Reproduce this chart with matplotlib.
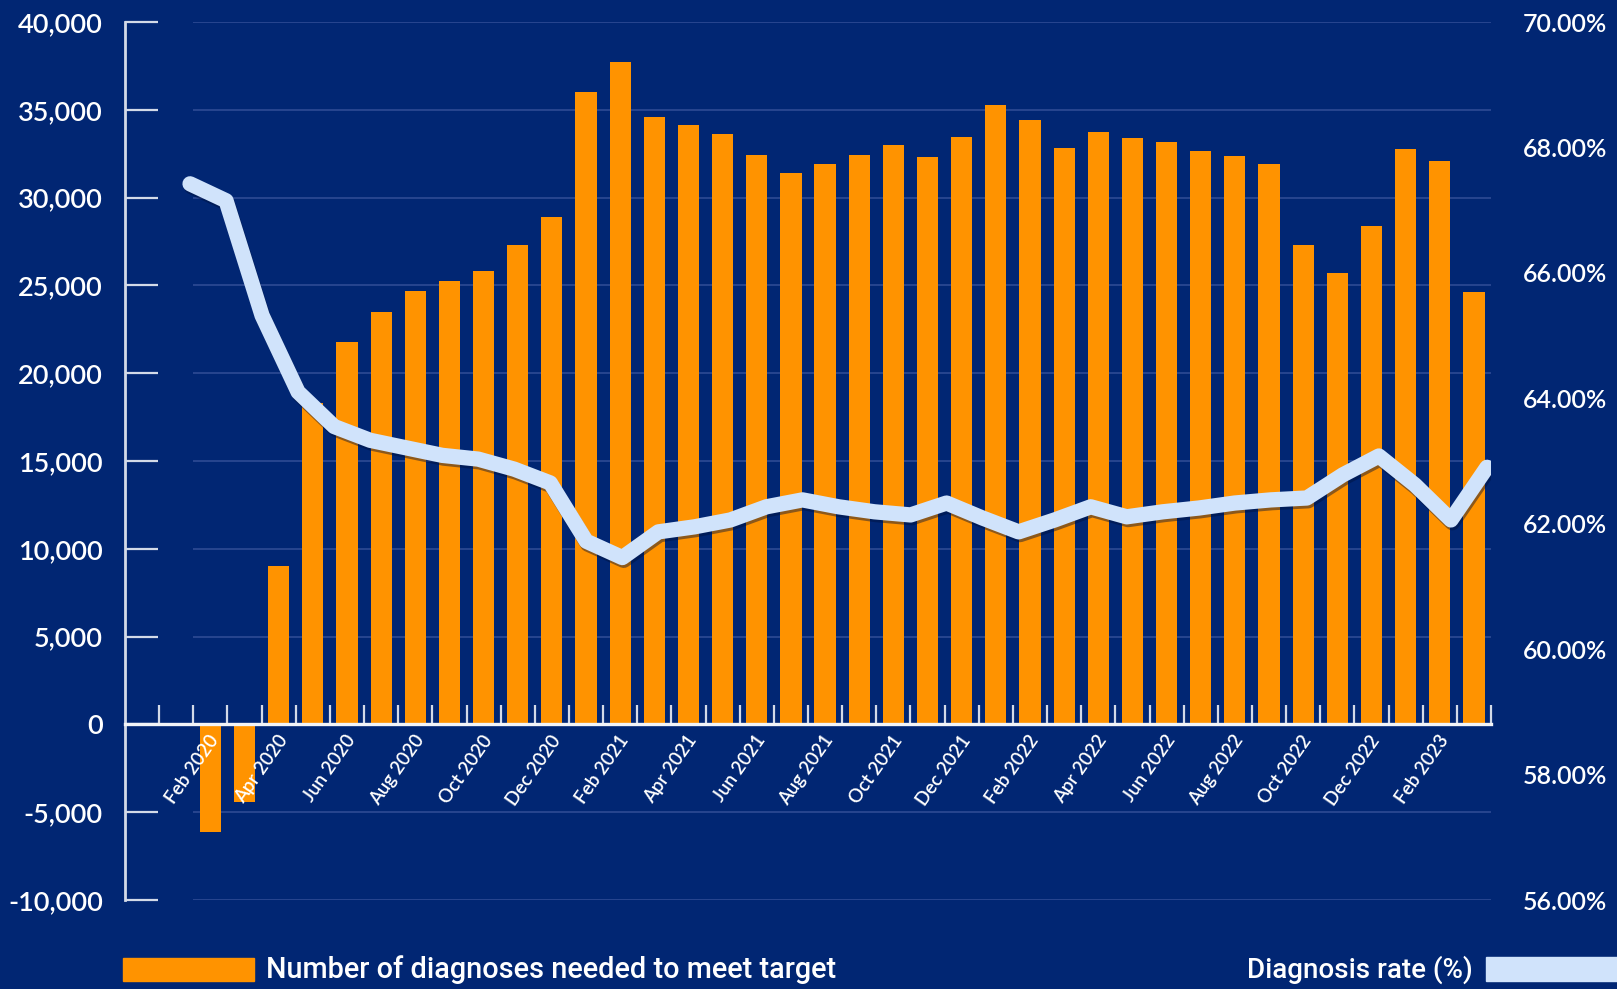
import matplotlib
matplotlib.use('Agg')
import matplotlib.pyplot as plt
import matplotlib.patheffects as pe
import matplotlib.transforms as mtransforms
from matplotlib.patches import Rectangle
from matplotlib.ticker import FuncFormatter, FixedLocator
import numpy as np

# ---------------- data ----------------
axis_months = ['Dec 2019', 'Jan 2020',
               'Feb 2020', 'Mar 2020', 'Apr 2020', 'May 2020', 'Jun 2020', 'Jul 2020',
               'Aug 2020', 'Sep 2020', 'Oct 2020', 'Nov 2020', 'Dec 2020',
               'Jan 2021', 'Feb 2021', 'Mar 2021', 'Apr 2021', 'May 2021', 'Jun 2021',
               'Jul 2021', 'Aug 2021', 'Sep 2021', 'Oct 2021', 'Nov 2021', 'Dec 2021',
               'Jan 2022', 'Feb 2022', 'Mar 2022', 'Apr 2022', 'May 2022', 'Jun 2022',
               'Jul 2022', 'Aug 2022', 'Sep 2022', 'Oct 2022', 'Nov 2022', 'Dec 2022',
               'Jan 2023', 'Feb 2023', 'Mar 2023']

bar_months = axis_months[2:]
bar_values = [-6100, -4400, 9000, 18300, 21800, 23500,
              24700, 25250, 25800, 27300, 28900,
              36000, 37700, 34600, 34150, 33600, 32400,
              31400, 31900, 32450, 33000, 32300, 33450,
              35300, 34400, 32800, 33750, 33400, 33150,
              32650, 32350, 31900, 27300, 25700, 28400,
              32750, 32100, 24650]

rate_months = axis_months[2:-1]
rate_values = [67.42, 67.15, 65.32, 64.10, 63.55, 63.33,
               63.21, 63.09, 63.03, 62.87, 62.65,
               61.72, 61.46, 61.87, 61.95, 62.06, 62.27,
               62.38, 62.27, 62.19, 62.14, 62.33, 62.09,
               61.87, 62.06, 62.27, 62.11, 62.19, 62.25,
               62.33, 62.38, 62.41, 62.78, 63.08, 62.62,
               62.06, 62.90]

left_ticks = [-10000, -5000, 0, 5000, 10000, 15000, 20000, 25000, 30000, 35000, 40000]
right_ticks = [56, 58, 60, 62, 64, 66, 68, 70]

bar_label = 'Number of diagnoses needed to meet target'
line_label = 'Diagnosis rate (%)'

# ---------------- style ----------------
BG = '#012673'
ORANGE = '#FF9300'
LINE = '#D0E3FB'
GRID = '#2E4B94'
AXC = '#D3DAE8'
FONT = 'Lato'
WEIGHT = 'semibold'

W, H = 1617, 989
fig = plt.figure(figsize=(W / 100, H / 100), dpi=100, facecolor=BG)
rect = [125 / W, 1 - 900 / H, 1366 / W, 878 / H]

ax = fig.add_axes(rect)
ax.set_facecolor(BG)
ax.set_axisbelow(False)

xpos = [axis_months.index(m) for m in bar_months]
ax.bar(xpos, bar_values, width=0.62, color=ORANGE, zorder=2)

n = len(axis_months)
ax.set_xlim(-0.5, n - 0.5)
ax.set_ylim(-10000, 40000)

# gridlines (start after the empty leading slots)
grid_vals = [v for v in left_ticks if v != 0]
ax.hlines(grid_vals, 1.5, n - 0.5, colors=GRID, linewidth=1.2, zorder=1)

# spines
for s in ['top', 'right']:
    ax.spines[s].set_visible(False)
ax.spines['left'].set_color(AXC)
ax.spines['left'].set_linewidth(2)
ax.spines['bottom'].set_position(('data', 0))
ax.spines['bottom'].set_color('#F2F4F8')
ax.spines['bottom'].set_linewidth(2.4)
ax.spines['bottom'].set_zorder(4)

# y ticks
ax.set_yticks(left_ticks)
ax.yaxis.set_major_formatter(FuncFormatter(lambda v, p: f'{v:,.0f}'))
ax.tick_params(axis='y', direction='in', length=24, width=1.6, color=AXC,
               labelcolor='white', labelsize=19.5, pad=16)
for t in ax.get_yticklabels():
    t.set_fontfamily(FONT)
    t.set_fontweight(WEIGHT)

# x ticks: labels every other month, minor ticks at slot boundaries
label_pos = list(range(2, n, 2))
ax.set_xticks(label_pos)
ax.set_xticklabels([axis_months[i] for i in label_pos])
ax.xaxis.set_minor_locator(FixedLocator(np.arange(0.5, n, 1.0)))
ax.tick_params(axis='x', which='major', length=0, pad=9, labelcolor='white',
               labelsize=13.5)
ax.tick_params(axis='x', which='minor', direction='in', length=14, width=1.6, color=AXC)
shift = mtransforms.ScaledTranslation(5 / 100, 0, fig.dpi_scale_trans)
for t in ax.get_xticklabels():
    t.set_rotation(55)
    t.set_ha('right')
    t.set_va('center')
    t.set_rotation_mode('anchor')
    t.set_fontfamily(FONT)
    t.set_fontweight(WEIGHT)
    t.set_transform(t.get_transform() + shift)

# ---------------- secondary (line) axes ----------------
ax2 = fig.add_axes(rect, facecolor='none')
ax2.set_xlim(-1.805, len(rate_months) - 1 + 0.111)
ax2.set_ylim(56, 70)
ax2.plot(range(len(rate_months)), rate_values, color=LINE, linewidth=11,
         solid_capstyle='round', solid_joinstyle='round', zorder=3,
         path_effects=[pe.SimpleLineShadow(offset=(1, -2), shadow_color='#00103a', alpha=0.45),
                       pe.Normal()])
for s in ax2.spines.values():
    s.set_visible(False)
ax2.set_xticks([])
ax2.yaxis.tick_right()
ax2.set_yticks(right_ticks)
ax2.yaxis.set_major_formatter(FuncFormatter(lambda v, p: f'{v:.2f}%'))
ax2.tick_params(axis='y', length=0, pad=23, labelcolor='white', labelsize=18)
for t in ax2.get_yticklabels():
    t.set_fontfamily(FONT)
    t.set_fontweight(WEIGHT)

# ---------------- legend ----------------
fig.patches.append(Rectangle((123 / W, 1 - 981 / H), 131 / W, 23 / H,
                             transform=fig.transFigure, color=ORANGE))
fig.text(266 / W, 1 - 970 / H, bar_label, color='white', fontsize=20.8,
         family='Roboto', fontweight='medium', ha='left', va='center')
fig.patches.append(Rectangle((1486 / W, 1 - 981 / H), 140 / W, 24 / H,
                             transform=fig.transFigure, color=LINE))
fig.text(1473 / W, 1 - 970 / H, line_label, color='white', fontsize=20,
         family='Roboto', fontweight='medium', ha='right', va='center')

fig.savefig('out.png', dpi=100, facecolor=BG)
